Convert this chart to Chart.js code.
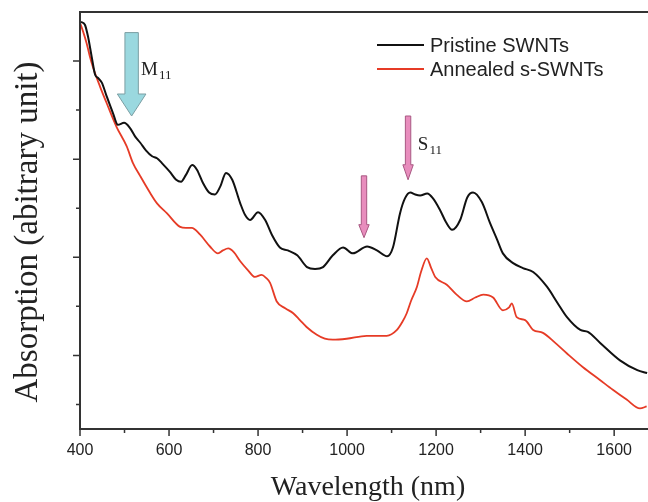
<!DOCTYPE html>
<html>
<head>
<meta charset="utf-8">
<script src="https://cdn.jsdelivr.net/npm/chart.js@4.4.1/dist/chart.umd.min.js"></script>
<style>
  html, body { margin: 0; padding: 0; background: #fff; }
  #wrap { width: 648px; height: 502px; }
</style>
</head>
<body>
<div id="wrap"><canvas id="chart" width="648" height="502"></canvas></div>
<script>
// values (wavelength in nm, absorption in arbitrary units)
let pristineNm = [402, 411, 418, 426, 434, 440, 449, 460, 474, 485, 499, 512, 524, 535, 548, 562, 573, 584,
  602, 616, 627, 638, 652, 663, 676, 690, 703, 715, 728, 742, 760, 771, 782, 800, 816, 831, 849, 867,
  888, 910, 928, 946, 968, 991, 1013, 1045, 1067, 1090, 1103, 1119, 1130, 1142, 1153, 1164, 1180, 1193,
  1209, 1222, 1236, 1254, 1270, 1283, 1303, 1321, 1337, 1350, 1373, 1395, 1418, 1449, 1472, 1494, 1524,
  1541, 1568, 1613, 1652, 1674]
let pristineAbs = [4.40, 4.37, 4.25, 4.05, 3.86, 3.83, 3.78, 3.64, 3.47, 3.35, 3.37, 3.32, 3.23, 3.17, 3.09, 3.03, 3.01, 2.96,
  2.87, 2.79, 2.77, 2.84, 2.94, 2.89, 2.76, 2.66, 2.64, 2.72, 2.86, 2.79, 2.55, 2.43, 2.38, 2.46, 2.38, 2.23, 2.10, 2.07,
  2.02, 1.90, 1.88, 1.90, 2.02, 2.10, 2.04, 2.11, 2.07, 2.01, 2.10, 2.45, 2.60, 2.66, 2.64, 2.63, 2.65, 2.60,
  2.48, 2.36, 2.28, 2.38, 2.61, 2.66, 2.56, 2.35, 2.18, 2.04, 1.94, 1.89, 1.85, 1.70, 1.54, 1.39, 1.26,
  1.24, 1.13, 0.95, 0.85, 0.82]

let annealedNm = [400, 407, 415, 422, 429, 445, 460, 482, 505, 519, 535, 557, 573, 595, 625, 638, 651, 670,
  692, 710, 721, 733, 746, 760, 777, 793, 808, 818, 827, 842, 861, 879, 894, 909, 932, 950, 968, 999,
  1044, 1089, 1112, 1124, 1134, 1144, 1157, 1166, 1179, 1189, 1198, 1224, 1246, 1269, 1288, 1306, 1328,
  1350, 1364, 1370, 1381, 1400, 1418, 1440, 1467, 1494, 1530, 1568, 1597, 1628, 1658, 1673]
let annealedAbs = [4.39, 4.30, 4.18, 4.05, 3.94, 3.74, 3.57, 3.33, 3.13, 2.96, 2.83, 2.66, 2.55, 2.45, 2.31, 2.30, 2.30, 2.23,
  2.11, 2.04, 2.07, 2.09, 2.05, 1.96, 1.87, 1.80, 1.82, 1.79, 1.74, 1.55, 1.48, 1.43, 1.36, 1.29, 1.21, 1.17, 1.16, 1.17,
  1.20, 1.20, 1.26, 1.34, 1.43, 1.56, 1.70, 1.85, 1.99, 1.89, 1.80, 1.72, 1.62, 1.55, 1.59, 1.62, 1.59,
  1.46, 1.49, 1.53, 1.39, 1.36, 1.26, 1.23, 1.13, 1.02, 0.88, 0.75, 0.65, 0.55, 0.46, 0.48]

let xTickValues = [400, 600, 800, 1000, 1200, 1400, 1600]
let xMinorTicks = [500, 700, 900, 1100, 1300, 1500]
let yMajorTicks = [1, 2, 3, 4]
let yMinorTicks = [0.5, 1.5, 2.5, 3.5]

let seriesLabels = ["Pristine SWNTs", "Annealed s-SWNTs"]

function toPoints(xs, ys) {
  return xs.map((v, i) => ({ x: v, y: ys[i] }))
}

function arrow(ctx, cx, top, tip, shaft, head, headLen, fill, stroke) {
  ctx.beginPath()
  ctx.moveTo(cx - shaft, top)
  ctx.lineTo(cx + shaft, top)
  ctx.lineTo(cx + shaft, tip - headLen)
  ctx.lineTo(cx + head, tip - headLen)
  ctx.lineTo(cx, tip)
  ctx.lineTo(cx - head, tip - headLen)
  ctx.lineTo(cx - shaft, tip - headLen)
  ctx.closePath()
  ctx.fillStyle = fill
  ctx.fill()
  ctx.strokeStyle = stroke
  ctx.lineWidth = 1
  ctx.stroke()
}

function subLabel(ctx, main, sub, px, py) {
  ctx.fillStyle = "#222"
  ctx.textBaseline = "alphabetic"
  ctx.textAlign = "left"
  ctx.font = "19px 'Liberation Serif'"
  ctx.fillText(main, px, py)
  let w = ctx.measureText(main).width
  ctx.font = "13px 'Liberation Serif'"
  ctx.fillText(sub, px + w + 1, py + 4)
}

let decor = {
  id: "decor",
  afterDraw(chart) {
    let ctx = chart.ctx
    let a = chart.chartArea
    let xs = chart.scales.x
    let ys = chart.scales.y
    ctx.save()

    // frame
    ctx.strokeStyle = "#333"
    ctx.lineWidth = 2
    ctx.beginPath()
    ctx.moveTo(a.right, a.bottom)
    ctx.lineTo(a.left, a.bottom)
    ctx.lineTo(a.left, a.top)
    ctx.lineTo(a.right, a.top)
    ctx.stroke()

    // tick marks
    ctx.lineWidth = 1.5
    ctx.beginPath()
    xTickValues.forEach(v => { let p = xs.getPixelForValue(v); ctx.moveTo(p, a.bottom); ctx.lineTo(p, a.bottom + 7) })
    xMinorTicks.forEach(v => { let p = xs.getPixelForValue(v); ctx.moveTo(p, a.bottom); ctx.lineTo(p, a.bottom + 4) })
    yMajorTicks.forEach(v => { let p = ys.getPixelForValue(v); ctx.moveTo(a.left, p); ctx.lineTo(a.left - 7, p) })
    yMinorTicks.forEach(v => { let p = ys.getPixelForValue(v); ctx.moveTo(a.left, p); ctx.lineTo(a.left - 4, p) })
    ctx.stroke()

    // axis titles
    ctx.fillStyle = "#222"
    ctx.textAlign = "center"
    ctx.textBaseline = "alphabetic"
    ctx.font = "28px 'Liberation Serif'"
    ctx.fillText("Wavelength (nm)", 368, 495)
    ctx.save()
    ctx.translate(37, 232)
    ctx.rotate(-Math.PI / 2)
    ctx.font = "33px 'Liberation Serif'"
    ctx.fillText("Absorption (abitrary unit)", 0, 0)
    ctx.restore()

    // legend
    ctx.font = "20px 'Liberation Sans'"
    ctx.textAlign = "left"
    ctx.textBaseline = "middle"
    let legY = [45, 69]
    chart.data.datasets.forEach((ds, i) => {
      ctx.strokeStyle = ds.borderColor
      ctx.lineWidth = 2
      ctx.beginPath()
      ctx.moveTo(377, legY[i])
      ctx.lineTo(424, legY[i])
      ctx.stroke()
      ctx.fillStyle = "#222"
      ctx.fillText(ds.label, 430, legY[i] + 1)
    })

    // arrows
    let mx = xs.getPixelForValue(516)
    arrow(ctx, mx, ys.getPixelForValue(4.29), ys.getPixelForValue(3.44), 6.7, 14.3, 22, "#9ad8df", "#7b9ea3")
    let sx = xs.getPixelForValue(1137)
    arrow(ctx, sx, ys.getPixelForValue(3.44), ys.getPixelForValue(2.79), 2.7, 5.2, 15, "#e88dbd", "#a85882")
    let bx = xs.getPixelForValue(1038)
    arrow(ctx, bx, ys.getPixelForValue(2.83), ys.getPixelForValue(2.20), 2.7, 5.2, 13, "#e88dbd", "#a85882")

    subLabel(ctx, "M", "11", xs.getPixelForValue(537), ys.getPixelForValue(3.86))
    subLabel(ctx, "S", "11", xs.getPixelForValue(1159), ys.getPixelForValue(3.09))

    ctx.restore()
  }
}

let chart = new Chart(document.getElementById("chart"), {
  type: "line",
  data: {
    datasets: [{
      label: seriesLabels[0],
      data: toPoints(pristineNm, pristineAbs),
      borderColor: "#111111",
      borderWidth: 2,
      pointRadius: 0,
      cubicInterpolationMode: "monotone"
    }, {
      label: seriesLabels[1],
      data: toPoints(annealedNm, annealedAbs),
      borderColor: "#e63b26",
      borderWidth: 1.8,
      pointRadius: 0,
      cubicInterpolationMode: "monotone"
    }]
  },
  options: {
    responsive: false,
    animation: false,
    layout: { padding: { left: 80, top: 12, right: 0, bottom: 0 } },
    plugins: { legend: { display: false }, tooltip: { enabled: false } },
    scales: {
      x: {
        type: "linear",
        min: 400,
        max: 1676,
        grid: { display: false, drawTicks: false },
        border: { display: false },
        afterBuildTicks: s => { s.ticks = xTickValues.map(v => ({ value: v })) },
        afterFit: s => { s.height = 73 },
        ticks: {
          padding: 12,
          color: "#222",
          font: { family: "'Liberation Sans'", size: 16 },
          callback: v => String(v)
        }
      },
      y: {
        type: "linear",
        display: false,
        min: 0.25,
        max: 4.5
      }
    }
  },
  plugins: [decor]
})
</script>
</body>
</html>
